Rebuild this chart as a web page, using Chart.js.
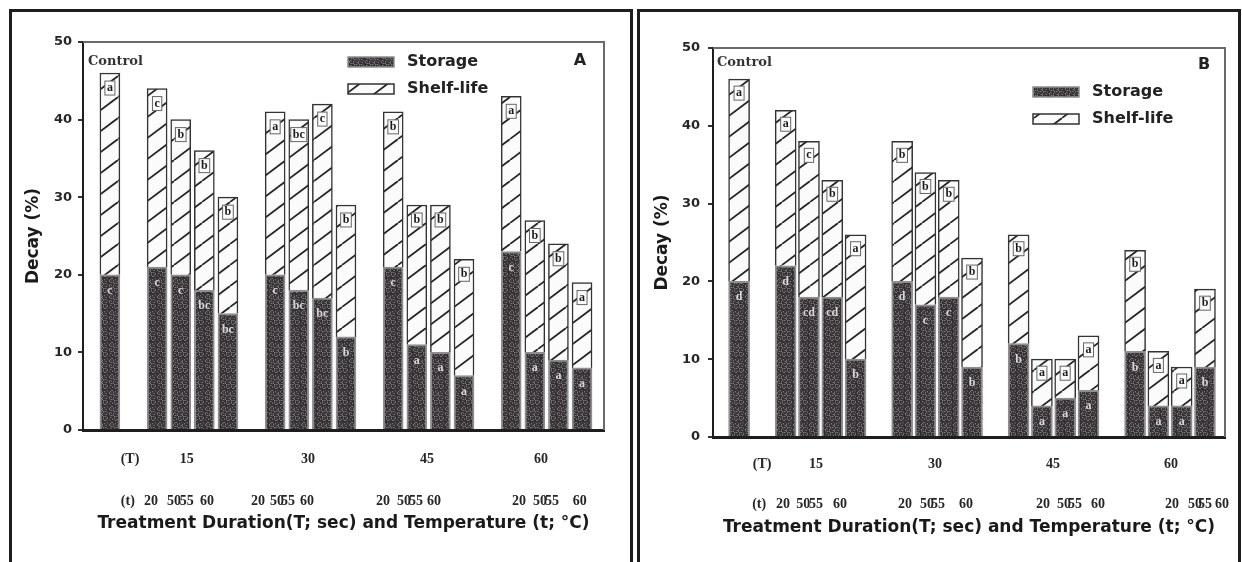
<!DOCTYPE html>
<html>
<head>
<meta charset="utf-8">
<script src="https://cdn.jsdelivr.net/npm/chart.js@4.4.1/dist/chart.umd.min.js"></script>
<style>
  html, body { margin: 0; padding: 0; background: #fff; }
  body { width: 1242px; height: 562px; position: relative; overflow: hidden; }
  .frame { position: absolute; top: 9px; height: 560px; border: 3px solid #1e1e1e; border-bottom: none; box-sizing: border-box; }
  #frameA { left: 9px; width: 624px; }
  #frameB { left: 637px; width: 604px; }
  canvas { position: absolute; }
  #panelA { left: 6px; top: 13px; }
  #panelB { left: 642px; top: 13px; }
</style>
</head>
<body>
<div class="frame" id="frameA"></div>
<div class="frame" id="frameB"></div>
<canvas id="panelA" width="624" height="549"></canvas>
<canvas id="panelB" width="600" height="549"></canvas>
<script>
// treatments: control + duration (T, sec) x temperature (t, °C)
var durations = ['15', '30', '45', '60'];
var temps = ['20', '50', '55', '60'];
var categories = ['Control'].concat(durations.flatMap(function (d) {
    return temps.map(function (t) { return d + ' s / ' + t + ' °C'; });
}));

// decay (%)
var storageA = [20, 21, 20, 18, 15, 20, 18, 17, 12, 21, 11, 10, 7, 23, 10, 9, 8];
var shelfA   = [26, 23, 20, 18, 15, 21, 22, 25, 17, 20, 18, 19, 15, 20, 17, 15, 11];
var storageB = [20, 22, 18, 18, 10, 20, 17, 18, 9, 12, 4, 5, 6, 11, 4, 4, 9];
var shelfB   = [26, 20, 20, 15, 16, 18, 17, 15, 14, 14, 6, 5, 7, 13, 7, 5, 10];

// significance letters
var storageLetA = ['c', 'c', 'c', 'bc', 'bc', 'c', 'bc', 'bc', 'b', 'c', 'a', 'a', 'a', 'c', 'a', 'a', 'a'];
var shelfLetA   = ['a', 'c', 'b', 'b', 'b', 'a', 'bc', 'c', 'b', 'b', 'b', 'b', 'b', 'a', 'b', 'b', 'a'];
var storageLetB = ['d', 'd', 'cd', 'cd', 'b', 'd', 'c', 'c', 'b', 'b', 'a', 'a', 'a', 'b', 'a', 'a', 'b'];
var shelfLetB   = ['a', 'a', 'c', 'b', 'a', 'b', 'b', 'b', 'b', 'b', 'a', 'a', 'a', 'b', 'a', 'a', 'b'];

var yTicks = [0, 10, 20, 30, 40, 50];
var rowTLabels = ['(T)'].concat(durations);
var rowtLabels = ['(t)'].concat(temps, temps, temps, temps);
var seriesNames = ['Storage', 'Shelf-life'];
var xTitle = 'Treatment Duration(T; sec) and Temperature (t; °C)';
var yTitle = 'Decay (%)';

// slot on the x scale: control, gap, then groups of four separated by a gap
function slot(i) { return i === 0 ? 0 : i + 1 + Math.floor((i - 1) / 4); }

var layoutA = {
    tag: 'A', xMin: -1.14, xMax: 20.93, bar: 20,
    yW: 77, yTickPad: 6, yTitlePad: 17, padTop: 29, padRight: 26,
    hMain: 14, hT: 34, hRow: 84, padT: 7, padRow: 15, titlePad: 28,
    rowTAt: [0.85, 3.26, 8.39, 13.43, 18.26],
    rowtAt: [0.76, 1.74, 2.71, 3.26, 4.11, 6.27, 7.08, 7.54, 8.35, 11.57, 12.46, 12.97, 13.73, 17.33, 18.22, 18.73, 19.9],
    legend: [265, 20], control: [5, 20], tagAt: [-24, 19], shelfDy: 15, storDy: 16
};
var layoutB = {
    tag: 'B', xMin: -1.12, xMax: 20.86, bar: 21,
    yW: 71, yTickPad: 8, yTitlePad: 10, padTop: 35, padRight: 17,
    hMain: 14, hT: 32, hRow: 79, padT: 5, padRow: 13, titlePad: 24,
    rowTAt: [0.99, 3.30, 8.41, 13.48, 18.54],
    rowtAt: [0.86, 1.89, 2.75, 3.30, 4.33, 7.12, 8.07, 8.54, 9.74, 13.05, 13.95, 14.42, 15.41, 18.58, 19.57, 20.0, 20.73],
    legend: [320, 44], control: [4, 15], tagAt: [-21, 17], shelfDy: 14, storDy: 16
};

var sansBold = '"DejaVu Sans", "Liberation Sans", sans-serif';
var rowFont = '"Liberation Serif", serif';

function speckle(ctx) {
    var c = document.createElement('canvas');
    c.width = 16; c.height = 16;
    var g = c.getContext('2d');
    g.fillStyle = '#353034';
    g.fillRect(0, 0, 16, 16);
    for (var y = 0; y < 16; y++) {
        for (var x = 0; x < 16; x++) {
            var h = (x * 73 + y * 151 + x * y * 17) % 11;
            if (h === 0 || h === 5) { g.fillStyle = '#7d787c'; g.fillRect(x, y, 1, 1); }
            else if (h === 3 || h === 8) { g.fillStyle = '#565155'; g.fillRect(x, y, 1, 1); }
        }
    }
    return ctx.createPattern(c, 'repeat');
}

function hatch(ctx) {
    var w = 28, h = 21;
    var c = document.createElement('canvas');
    c.width = w; c.height = h;
    var g = c.getContext('2d');
    g.fillStyle = '#fbfbfb';
    g.fillRect(0, 0, w, h);
    g.strokeStyle = '#262626';
    g.lineWidth = 1.8;
    [-w, 0, w].forEach(function (dx) {
        g.beginPath();
        g.moveTo(dx, h);
        g.lineTo(dx + w, 0);
        g.stroke();
    });
    return ctx.createPattern(c, 'repeat');
}

var plotFrame = {
    id: 'plotFrame',
    beforeDatasetsDraw: function (chart) {
        var a = chart.chartArea, ctx = chart.ctx;
        ctx.save();
        ctx.strokeStyle = '#6a6a6a';
        ctx.lineWidth = 2;
        ctx.beginPath();
        ctx.moveTo(a.left, a.top);
        ctx.lineTo(a.right, a.top);
        ctx.lineTo(a.right, a.bottom);
        ctx.stroke();
        ctx.restore();
    }
};

var letters = {
    id: 'letters',
    afterDatasetsDraw: function (chart) {
        var ctx = chart.ctx, L = chart.options.plugins.letters;
        ctx.save();
        ctx.font = 'bold 12px "Liberation Serif", serif';
        ctx.textAlign = 'center';
        ctx.textBaseline = 'middle';
        chart.data.datasets.forEach(function (ds, di) {
            chart.getDatasetMeta(di).data.forEach(function (bar, i) {
                var txt = ds.letters[i];
                var shelf = di === 1;
                var y = bar.y + (shelf ? L.shelfDy : L.storDy);
                var tw = ctx.measureText(txt).width + 4;
                if (shelf) {
                    ctx.fillStyle = '#fbfbfb';
                    ctx.fillRect(bar.x - tw / 2, y - 7, tw, 14);
                    ctx.strokeStyle = '#666';
                    ctx.lineWidth = 1;
                    ctx.strokeRect(bar.x - tw / 2, y - 7, tw, 14);
                    ctx.fillStyle = '#1a1a1a';
                } else {
                    ctx.fillStyle = '#d8d8d8';
                }
                ctx.fillText(txt, bar.x, y);
            });
        });
        ctx.restore();
    }
};

var notes = {
    id: 'notes',
    afterDraw: function (chart) {
        var ctx = chart.ctx, a = chart.chartArea, L = chart.options.plugins.letters;
        ctx.save();
        ctx.textBaseline = 'middle';
        // Control label
        ctx.font = 'bold 13px "DejaVu Serif", serif';
        ctx.fillStyle = '#333';
        ctx.textAlign = 'left';
        ctx.fillText('Control', a.left + L.control[0], a.top + L.control[1]);
        // panel tag
        ctx.font = 'bold 16px ' + sansBold;
        ctx.fillStyle = '#222';
        ctx.textAlign = 'center';
        ctx.fillText(L.tag, a.right + L.tagAt[0], a.top + L.tagAt[1]);
        // legend
        ctx.font = 'bold 16px ' + sansBold;
        ctx.textAlign = 'left';
        chart.data.datasets.forEach(function (ds, di) {
            var x = a.left + L.legend[0], y = a.top + L.legend[1] + di * 27;
            ctx.fillStyle = ds.backgroundColor;
            ctx.fillRect(x, y - 5, 46, 10);
            ctx.strokeStyle = ds.borderColor;
            ctx.lineWidth = 1.5;
            ctx.strokeRect(x, y - 5, 46, 10);
            ctx.fillStyle = '#222';
            ctx.fillText(ds.label, x + 59, y);
        });
        ctx.restore();
    }
};

function rowAxis(L, at, labels, weight, height, pad, title) {
    return {
        type: 'linear', axis: 'x', position: 'bottom', weight: weight,
        min: L.xMin, max: L.xMax, offset: false,
        grid: { display: false, drawTicks: false }, border: { display: false },
        afterBuildTicks: function (s) { s.ticks = at.map(function (v) { return { value: v }; }); },
        afterFit: function (s) { s.height = height; s.paddingLeft = 0; s.paddingRight = 0; },
        ticks: {
            autoSkip: false, maxRotation: 0, padding: pad, color: '#262626',
            font: { family: rowFont, size: 14, weight: 'bold' },
            callback: function (v, i) { return labels[i]; }
        },
        title: title ? {
            display: true, text: title, color: '#1a1a1a',
            font: { family: sansBold, size: 17, weight: 'bold' },
            padding: { top: 0, bottom: L.titlePad }
        } : { display: false }
    };
}

function drawPanel(id, L, storage, shelf, storLet, shelfLet) {
    var ctx = document.getElementById(id).getContext('2d');
    return new Chart(ctx, {
        type: 'bar',
        data: {
            labels: categories,
            datasets: [{
                label: seriesNames[0],
                data: storage.map(function (v, i) { return { x: slot(i), y: v }; }),
                letters: storLet,
                backgroundColor: speckle(ctx),
                borderColor: '#8e8e8e',
                borderWidth: 2,
                barThickness: L.bar
            }, {
                label: seriesNames[1],
                data: shelf.map(function (v, i) { return { x: slot(i), y: v }; }),
                letters: shelfLet,
                backgroundColor: hatch(ctx),
                borderColor: '#333',
                borderWidth: 1.5,
                barThickness: L.bar
            }]
        },
        options: {
            responsive: false,
            animation: false,
            layout: { padding: { top: L.padTop, right: L.padRight, left: 0, bottom: 0 } },
            plugins: {
                legend: { display: false },
                tooltip: { enabled: false },
                letters: L
            },
            scales: {
                x: {
                    type: 'linear', stacked: true, position: 'bottom', weight: 0,
                    min: L.xMin, max: L.xMax, offset: false,
                    ticks: { display: false },
                    grid: { display: false, drawTicks: false },
                    border: { display: true, color: '#1e1e1e', width: 3 },
                    afterFit: function (s) { s.height = L.hMain; s.paddingLeft = 0; s.paddingRight = 0; }
                },
                xT: rowAxis(L, L.rowTAt, rowTLabels, 1, L.hT, L.padT),
                xt: rowAxis(L, L.rowtAt, rowtLabels, 2, L.hRow, L.padRow, xTitle),
                y: {
                    stacked: true, min: 0, max: 50,
                    afterBuildTicks: function (s) { s.ticks = yTicks.map(function (v) { return { value: v }; }); },
                    afterFit: function (s) { s.width = L.yW; },
                    grid: { display: true, drawOnChartArea: false, drawTicks: true, tickLength: 5, color: '#333', lineWidth: 2 },
                    border: { display: true, color: '#1e1e1e', width: 2 },
                    ticks: { padding: L.yTickPad, color: '#262626', font: { family: sansBold, size: 13, weight: 'bold' } },
                    title: {
                        display: true, text: yTitle, color: '#1a1a1a',
                        font: { family: sansBold, size: 17, weight: 'bold' },
                        padding: { top: L.yTitlePad, bottom: 0 }
                    }
                }
            }
        },
        plugins: [plotFrame, letters, notes]
    });
}

drawPanel('panelA', layoutA, storageA, shelfA, storageLetA, shelfLetA);
drawPanel('panelB', layoutB, storageB, shelfB, storageLetB, shelfLetB);
</script>
</body>
</html>
